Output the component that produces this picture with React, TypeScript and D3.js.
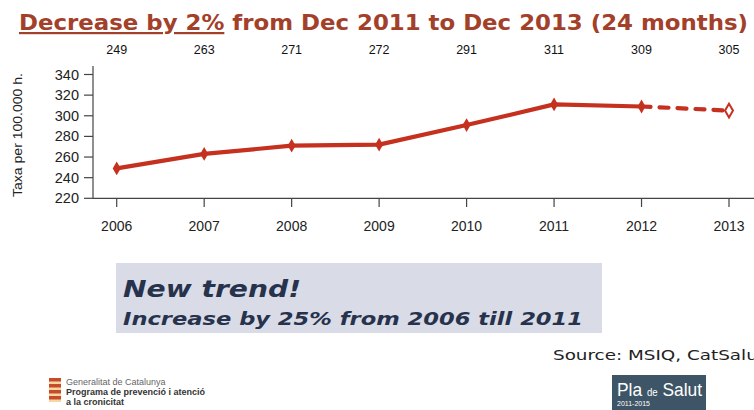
import React from "react";
import * as d3 from "d3";

const years = [2006, 2007, 2008, 2009, 2010, 2011, 2012, 2013];
const rates = [249, 263, 271, 272, 291, 311, 309, 305];
const yTicks = [220, 240, 260, 280, 300, 320, 340];
const solidCount = 7; // 2006-2012 solid, 2012-2013 dashed projection

const RED = "#c5301f";

export default function App() {
  const W = 754, H = 410;
  const x = d3.scalePoint<number>().domain(years).range([116.7, 729]);
  const y = d3.scaleLinear().domain([220, 340]).range([198.3, 74.5]);
  const pts = years.map((yr, i) => ({ yr, v: rates[i] }));
  const line = d3.line<{ yr: number; v: number }>().x((d) => x(d.yr)!).y((d) => y(d.v));
  const solid = line(pts.slice(0, solidCount))!;
  const dashed = line(pts.slice(solidCount - 1))!;
  const diamond = d3.symbol().type(d3.symbolDiamond).size(55)()!;

  return (
    <svg width={W} height={H} style={{ position: "absolute", left: 0, top: 0, background: "#fff" }}>
      <rect width={W} height={H} fill="#fff" />
      {/* Title */}
      <text x={19} y={30} fontFamily="DejaVu Sans" fontWeight="bold" fontSize={22} fill="#a3402a"
        textLength={729} lengthAdjust="spacingAndGlyphs">
        <tspan textDecoration="underline">Decrease by 2%</tspan>
        <tspan> from Dec 2011 to Dec 2013 (24 months)</tspan>
      </text>
      {/* top value labels */}
      {pts.map((p) => (
        <text key={"v" + p.yr} x={x(p.yr)!} y={54} textAnchor="middle"
          fontFamily="Liberation Sans Narrow, Liberation Sans" fontSize={12.5} fill="#111">
          {p.v}
        </text>
      ))}
      {/* y axis */}
      <line x1={93} x2={93} y1={66} y2={198.3} stroke="#444" strokeWidth={1.2} />
      {yTicks.map((t) => (
        <g key={"y" + t}>
          <line x1={84} x2={93} y1={y(t)} y2={y(t)} stroke="#444" strokeWidth={1.2} />
          <text x={79} y={y(t) + 5} textAnchor="end" fontFamily="Liberation Sans" fontSize={14.5} fill="#222">
            {t}
          </text>
        </g>
      ))}
      <text transform="translate(22,135) rotate(-90)" textAnchor="middle" fontFamily="Liberation Sans" fontSize={12.5} fill="#222"
        textLength={124} lengthAdjust="spacingAndGlyphs">
        Taxa per 100.000 h.
      </text>
      {/* x axis */}
      <line x1={93} x2={754} y1={198.3} y2={198.3} stroke="#444" strokeWidth={1.2} />
      {years.map((yr) => (
        <g key={"x" + yr}>
          <line x1={x(yr)} x2={x(yr)} y1={198.3} y2={207} stroke="#444" strokeWidth={1.2} />
          <text x={x(yr)} y={231} textAnchor="middle" fontFamily="Liberation Sans" fontSize={14} fill="#222">
            {yr}
          </text>
        </g>
      ))}
      {/* lines */}
      <path d={solid} fill="none" stroke={RED} strokeWidth={4.2} strokeLinejoin="round" />
      <path d={dashed} fill="none" stroke={RED} strokeWidth={4.2} strokeDasharray="9 9" strokeLinecap="round" />
      {pts.map((p, i) =>
        i < years.length - 1 ? (
          <path key={"m" + p.yr} d={diamond} transform={`translate(${x(p.yr)},${y(p.v)})`} fill={RED} />
        ) : (
          <path key={"m" + p.yr} d={diamond} transform={`translate(${x(p.yr)},${y(p.v)})`} fill="#fff" stroke={RED} strokeWidth={2} />
        )
      )}
      {/* annotation box */}
      <rect x={116} y={263} width={486} height={70} fill="#d9dce6" />
      <text x={123} y={296.5} fontFamily="DejaVu Sans" fontWeight="bold" fontStyle="italic" fontSize={23} fill="#27324d"
        textLength={178} lengthAdjust="spacingAndGlyphs">
        New trend!
      </text>
      <text x={123} y={325} fontFamily="DejaVu Sans" fontWeight="bold" fontStyle="italic" fontSize={18.5} fill="#27324d"
        textLength={460} lengthAdjust="spacingAndGlyphs">
        Increase by 25% from 2006 till 2011
      </text>
      {/* source */}
      <text x={553} y={360} fontFamily="DejaVu Sans" fontSize={14.5} fill="#222" textLength={212} lengthAdjust="spacingAndGlyphs">
        Source: MSIQ, CatSalut
      </text>
      {/* Generalitat logo */}
      <g>
        <rect x={49} y={378} width={12} height={24} fill="#e8b24a" opacity={0.5} />
        {[0, 1, 2, 3].map((k) => (
          <rect key={"s" + k} x={49} y={378 + k * 6} width={12} height={3.5} fill="#c94a2a" />
        ))}
        <text x={66} y={385} fontFamily="Liberation Sans" fontSize={9} fill="#666">Generalitat de Catalunya</text>
        <text x={66} y={395} fontFamily="Liberation Sans" fontWeight="bold" fontSize={9} fill="#333">Programa de prevenció i atenció</text>
        <text x={66} y={405} fontFamily="Liberation Sans" fontWeight="bold" fontSize={9} fill="#333">a la cronicitat</text>
      </g>
      {/* Pla de Salut logo */}
      <g>
        <rect x={612} y={375} width={94} height={35} fill="#3d5566" />
        <text x={617} y={396} fontFamily="Liberation Sans Narrow, Liberation Sans" fontSize={18} fill="#fff"
          textLength={85} lengthAdjust="spacingAndGlyphs">
          Pla <tspan fontSize={10}>de</tspan> Salut
        </text>
        <text x={617} y={406} fontFamily="Liberation Sans" fontSize={7} fill="#fff">2011-2015</text>
      </g>
    </svg>
  );
}
